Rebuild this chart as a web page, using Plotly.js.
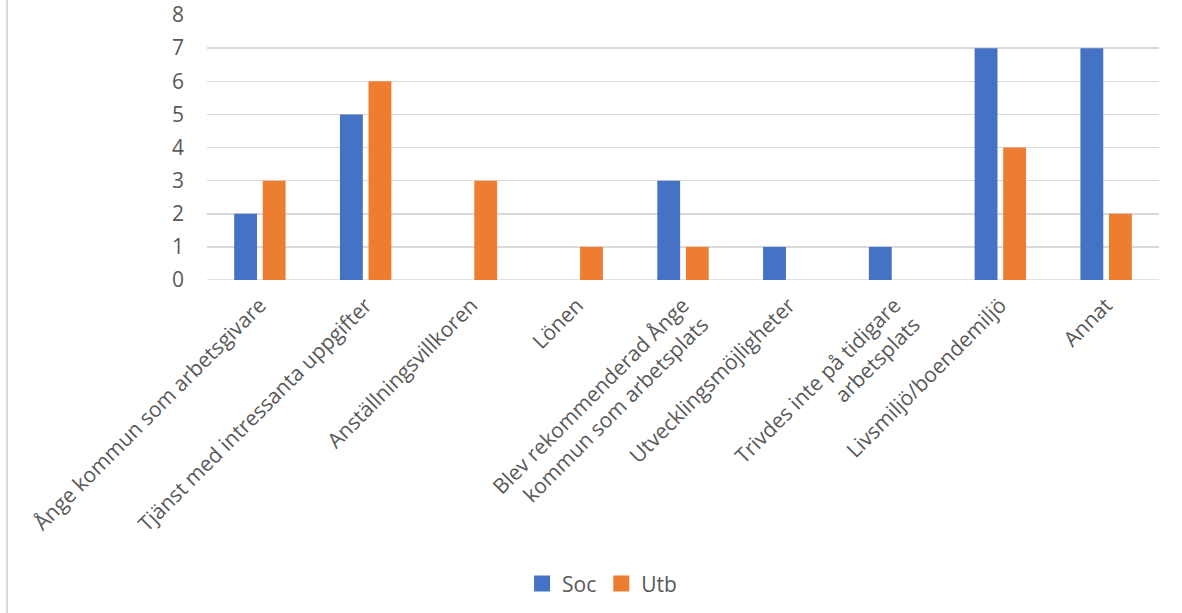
<!DOCTYPE html>
<html>
<head>
<meta charset="utf-8">
<script src="https://cdn.plot.ly/plotly-3.0.1.min.js"></script>
<style>html,body{margin:0;padding:0;background:#fff;}#chart{width:1182px;height:613px;}</style>
</head>
<body>
<div id="chart"></div>
<script>
const categories = [
  "Ånge kommun som arbetsgivare",
  "Tjänst med intressanta uppgifter",
  "Anställningsvillkoren",
  "Lönen",
  "Blev rekommenderad Ånge<br>kommun som arbetsplats",
  "Utvecklingsmöjligheter",
  "Trivdes inte på tidigare<br>arbetsplats",
  "Livsmiljö/boendemiljö",
  "Annat"
];
const socValues = [2, 5, 0, 0, 3, 1, 1, 7, 7];
const utbValues = [3, 6, 3, 1, 1, 0, 0, 4, 2];
const yTicks = [0, 1, 2, 3, 4, 5, 6, 7, 8];
const seriesNames = ['Soc', 'Utb'];
const seriesColors = ['#4472C4', '#ED7D31'];

const font = "'Open Sans', 'Noto Sans', sans-serif";
const traces = [
  {type: 'bar', name: seriesNames[0], x: categories, y: socValues, marker: {color: seriesColors[0]}, showlegend: false},
  {type: 'bar', name: seriesNames[1], x: categories, y: utbValues, marker: {color: seriesColors[1]}, showlegend: false},
  {type: 'scatter', mode: 'markers', name: seriesNames[0], x: [null], y: [null],
   marker: {symbol: 'square', size: 16, color: seriesColors[0]}, showlegend: true},
  {type: 'scatter', mode: 'markers', name: seriesNames[1], x: [null], y: [null],
   marker: {symbol: 'square', size: 16, color: seriesColors[1]}, showlegend: true}
];
const layout = {
  width: 1182, height: 613,
  margin: {l: 207, r: 23, t: 15, b: 333, autoexpand: false},
  paper_bgcolor: '#fff', plot_bgcolor: '#fff',
  barmode: 'group', bargap: 0.46, bargroupgap: 0.2,
  font: {family: font, color: '#595959', size: 20},
  showlegend: true,
  legend: {orientation: 'h', x: 0.415, xanchor: 'center', y: -1.147, yanchor: 'middle',
           font: {size: 21, color: '#595959'}, itemwidth: 20, traceorder: 'normal'},
  xaxis: {type: 'category', tickangle: -45, showgrid: false, zeroline: false, showline: false, automargin: false,
          ticks: '', ticklabelstandoff: 8, tickfont: {size: 21, color: '#595959'}},
  yaxis: {range: [0, 8], tickvals: yTicks, ticktext: yTicks.map(String), showgrid: true, automargin: false,
          gridcolor: '#d9d9d9', gridwidth: 1.5, zeroline: false, showline: false,
          ticks: '', ticklabelstandoff: 22, tickfont: {size: 21, color: '#595959'}},
  shapes: [
    {type: 'line', xref: 'paper', yref: 'paper', x0: -0.21, x1: -0.21, y0: -1.26, y1: 1.06,
     line: {color: '#d9d9d9', width: 2}},
    {type: 'line', xref: 'paper', yref: 'y', x0: 0, x1: 1, y0: 0, y1: 0,
     line: {color: '#d9d9d9', width: 1.5}, layer: 'below'}
  ]
};
Plotly.newPlot('chart', traces, layout, {displayModeBar: false, staticPlot: true});
</script>
</body>
</html>
